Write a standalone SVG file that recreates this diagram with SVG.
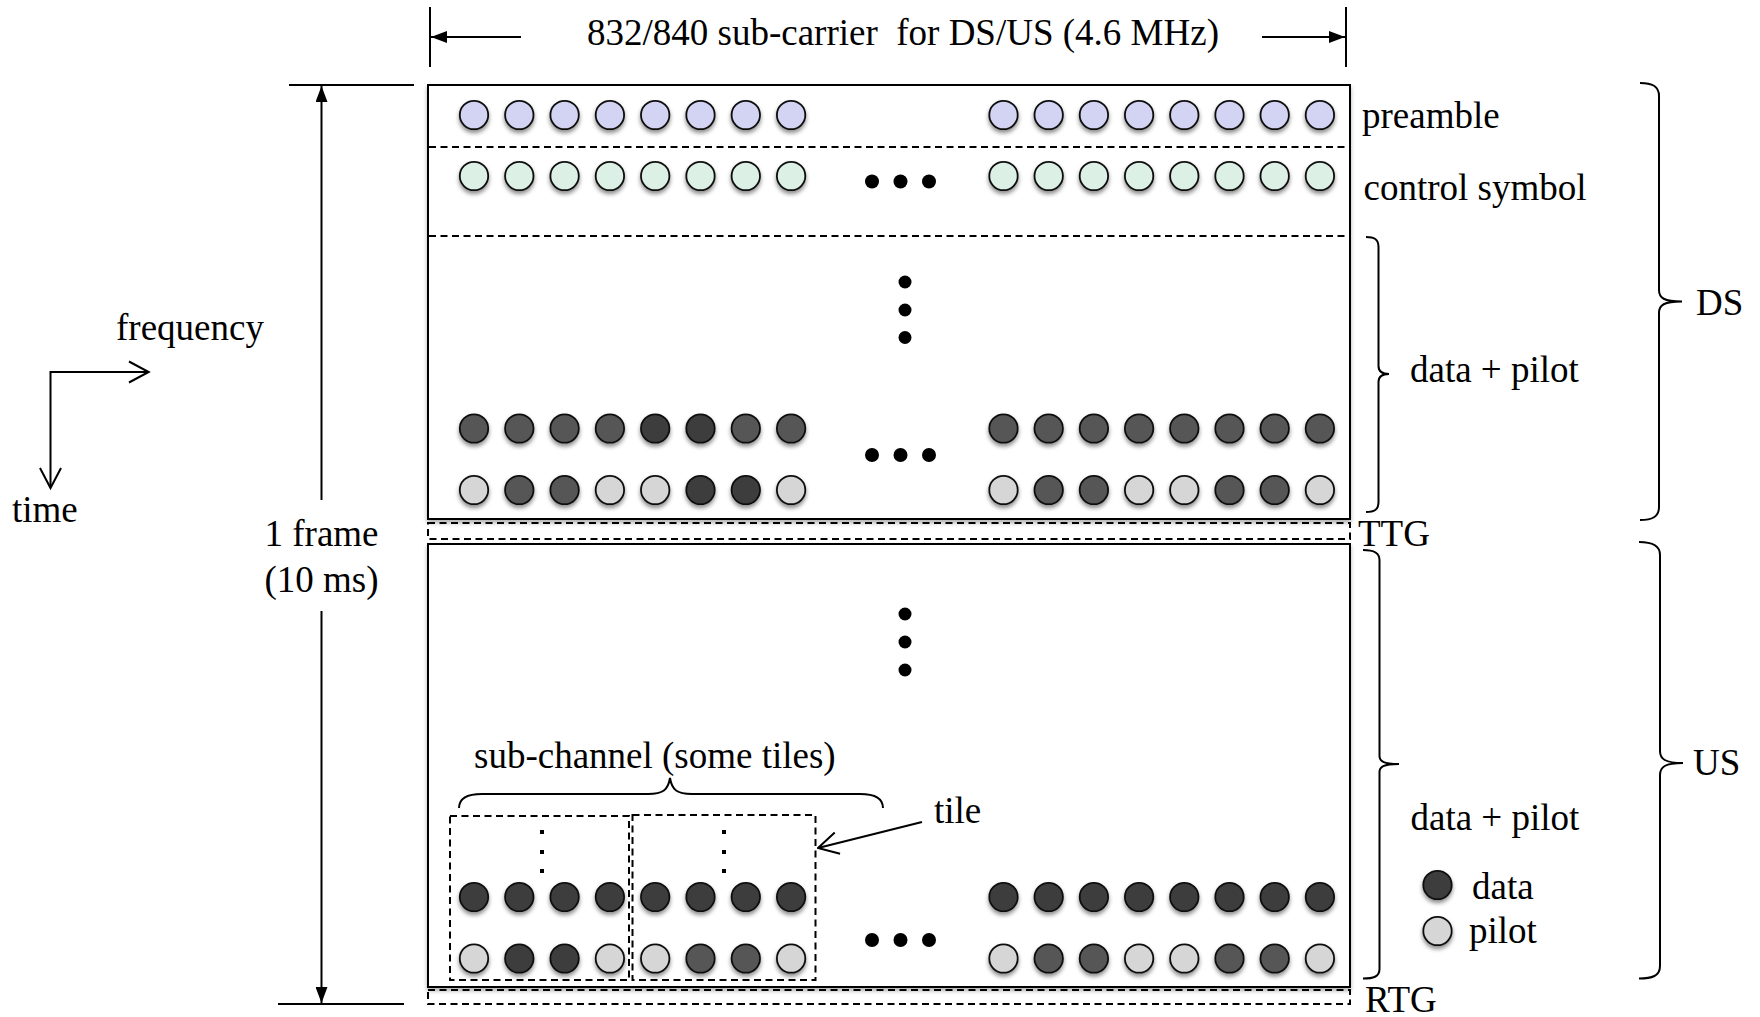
<svg xmlns="http://www.w3.org/2000/svg" width="1760" height="1017" viewBox="0 0 1760 1017">
<defs>
<filter id="sh" x="-50%" y="-50%" width="200%" height="220%">
<feDropShadow dx="0" dy="3" stdDeviation="2" flood-color="#000" flood-opacity="0.45"/>
</filter>
<filter id="shl" x="-5%" y="-5%" width="110%" height="110%">
<feDropShadow dx="0" dy="3" stdDeviation="2" flood-color="#000" flood-opacity="0.3"/>
</filter>
<marker id="fa" viewBox="0 0 16 12" refX="16" refY="6" markerWidth="16" markerHeight="12" markerUnits="userSpaceOnUse" orient="auto">
<path d="M0,0 L16,6 L0,12 Z" fill="#000"/>
</marker>
<marker id="oa" viewBox="0 0 22 24" refX="21" refY="12" markerWidth="22" markerHeight="24" markerUnits="userSpaceOnUse" orient="auto">
<path d="M1,1 L21,12 L1,23" fill="none" stroke="#000" stroke-width="2"/>
</marker>
</defs>
<style>
text{font-family:"Liberation Serif","Times New Roman",serif;font-size:37px;fill:#000;white-space:pre}
.c{stroke:#111;stroke-width:1.8;filter:url(#sh)}
.pre{fill:#d3d3f3}
.ctl{fill:#dcf0e6}
.d1{fill:#575757}
.d2{fill:#3d3d3d}
.pl{fill:#d6d6d6}
.ln{stroke:#000;stroke-width:2;fill:none}
.dash{stroke:#000;stroke-width:2;fill:none;stroke-dasharray:7 4.5}
.dot{fill:#000}
.frm{fill:#fff;stroke:#000;stroke-width:2;filter:url(#shl)}
</style>
<rect width="1760" height="1017" fill="#fff"/>

<g id="ds-frame">
<rect class="frm" x="428" y="85" width="922" height="434"/>
<line class="dash" x1="429" y1="147" x2="1349" y2="147"/>
<line class="dash" x1="429" y1="236" x2="1349" y2="236"/>
</g>

<g id="preamble">
<circle class="c pre" cx="474" cy="115" r="14.2"/><circle class="c pre" cx="519.3" cy="115" r="14.2"/><circle class="c pre" cx="564.6" cy="115" r="14.2"/><circle class="c pre" cx="609.9" cy="115" r="14.2"/><circle class="c pre" cx="655.2" cy="115" r="14.2"/><circle class="c pre" cx="700.5" cy="115" r="14.2"/><circle class="c pre" cx="745.8" cy="115" r="14.2"/><circle class="c pre" cx="791.1" cy="115" r="14.2"/>
<circle class="c pre" cx="1003.5" cy="115" r="14.2"/><circle class="c pre" cx="1048.7" cy="115" r="14.2"/><circle class="c pre" cx="1093.9" cy="115" r="14.2"/><circle class="c pre" cx="1139.1" cy="115" r="14.2"/><circle class="c pre" cx="1184.3" cy="115" r="14.2"/><circle class="c pre" cx="1229.5" cy="115" r="14.2"/><circle class="c pre" cx="1274.7" cy="115" r="14.2"/><circle class="c pre" cx="1319.9" cy="115" r="14.2"/>
</g>

<g id="control">
<circle class="c ctl" cx="474" cy="176" r="14.2"/><circle class="c ctl" cx="519.3" cy="176" r="14.2"/><circle class="c ctl" cx="564.6" cy="176" r="14.2"/><circle class="c ctl" cx="609.9" cy="176" r="14.2"/><circle class="c ctl" cx="655.2" cy="176" r="14.2"/><circle class="c ctl" cx="700.5" cy="176" r="14.2"/><circle class="c ctl" cx="745.8" cy="176" r="14.2"/><circle class="c ctl" cx="791.1" cy="176" r="14.2"/>
<circle class="c ctl" cx="1003.5" cy="176" r="14.2"/><circle class="c ctl" cx="1048.7" cy="176" r="14.2"/><circle class="c ctl" cx="1093.9" cy="176" r="14.2"/><circle class="c ctl" cx="1139.1" cy="176" r="14.2"/><circle class="c ctl" cx="1184.3" cy="176" r="14.2"/><circle class="c ctl" cx="1229.5" cy="176" r="14.2"/><circle class="c ctl" cx="1274.7" cy="176" r="14.2"/><circle class="c ctl" cx="1319.9" cy="176" r="14.2"/>
<circle class="dot" cx="872" cy="181.5" r="7"/><circle class="dot" cx="900.5" cy="181.5" r="7"/><circle class="dot" cx="929" cy="181.5" r="7"/>
</g>

<g id="ds-data">
<circle class="dot" cx="905" cy="282" r="6.5"/><circle class="dot" cx="905" cy="310" r="6.5"/><circle class="dot" cx="905" cy="337.5" r="6.5"/>
<circle class="c d1" cx="474" cy="428.5" r="14.2"/><circle class="c d1" cx="519.3" cy="428.5" r="14.2"/><circle class="c d1" cx="564.6" cy="428.5" r="14.2"/><circle class="c d1" cx="609.9" cy="428.5" r="14.2"/><circle class="c d2" cx="655.2" cy="428.5" r="14.2"/><circle class="c d2" cx="700.5" cy="428.5" r="14.2"/><circle class="c d1" cx="745.8" cy="428.5" r="14.2"/><circle class="c d1" cx="791.1" cy="428.5" r="14.2"/>
<circle class="c d1" cx="1003.5" cy="428.5" r="14.2"/><circle class="c d1" cx="1048.7" cy="428.5" r="14.2"/><circle class="c d1" cx="1093.9" cy="428.5" r="14.2"/><circle class="c d1" cx="1139.1" cy="428.5" r="14.2"/><circle class="c d1" cx="1184.3" cy="428.5" r="14.2"/><circle class="c d1" cx="1229.5" cy="428.5" r="14.2"/><circle class="c d1" cx="1274.7" cy="428.5" r="14.2"/><circle class="c d1" cx="1319.9" cy="428.5" r="14.2"/>
<circle class="dot" cx="872" cy="455" r="7"/><circle class="dot" cx="900.5" cy="455" r="7"/><circle class="dot" cx="929" cy="455" r="7"/>
<circle class="c pl" cx="474" cy="490" r="14.2"/><circle class="c d1" cx="519.3" cy="490" r="14.2"/><circle class="c d1" cx="564.6" cy="490" r="14.2"/><circle class="c pl" cx="609.9" cy="490" r="14.2"/><circle class="c pl" cx="655.2" cy="490" r="14.2"/><circle class="c d2" cx="700.5" cy="490" r="14.2"/><circle class="c d2" cx="745.8" cy="490" r="14.2"/><circle class="c pl" cx="791.1" cy="490" r="14.2"/>
<circle class="c pl" cx="1003.5" cy="490" r="14.2"/><circle class="c d1" cx="1048.7" cy="490" r="14.2"/><circle class="c d1" cx="1093.9" cy="490" r="14.2"/><circle class="c pl" cx="1139.1" cy="490" r="14.2"/><circle class="c pl" cx="1184.3" cy="490" r="14.2"/><circle class="c d1" cx="1229.5" cy="490" r="14.2"/><circle class="c d1" cx="1274.7" cy="490" r="14.2"/><circle class="c pl" cx="1319.9" cy="490" r="14.2"/>
</g>

<g id="ttg">
<rect class="dash" x="428" y="523" width="922" height="16"/>
</g>

<g id="us-frame">
<rect class="frm" x="428" y="544" width="922" height="443"/>
<circle class="dot" cx="905" cy="614" r="6.5"/><circle class="dot" cx="905" cy="642" r="6.5"/><circle class="dot" cx="905" cy="670" r="6.5"/>
</g>

<g id="us-data">
<circle class="c d2" cx="474" cy="897" r="14.2"/><circle class="c d2" cx="519.3" cy="897" r="14.2"/><circle class="c d2" cx="564.6" cy="897" r="14.2"/><circle class="c d2" cx="609.9" cy="897" r="14.2"/><circle class="c d2" cx="655.2" cy="897" r="14.2"/><circle class="c d2" cx="700.5" cy="897" r="14.2"/><circle class="c d2" cx="745.8" cy="897" r="14.2"/><circle class="c d2" cx="791.1" cy="897" r="14.2"/>
<circle class="c d2" cx="1003.5" cy="897" r="14.2"/><circle class="c d2" cx="1048.7" cy="897" r="14.2"/><circle class="c d2" cx="1093.9" cy="897" r="14.2"/><circle class="c d2" cx="1139.1" cy="897" r="14.2"/><circle class="c d2" cx="1184.3" cy="897" r="14.2"/><circle class="c d2" cx="1229.5" cy="897" r="14.2"/><circle class="c d2" cx="1274.7" cy="897" r="14.2"/><circle class="c d2" cx="1319.9" cy="897" r="14.2"/>
<circle class="dot" cx="872" cy="940" r="7"/><circle class="dot" cx="900.5" cy="940" r="7"/><circle class="dot" cx="929" cy="940" r="7"/>
<circle class="c pl" cx="474" cy="958.5" r="14.2"/><circle class="c d2" cx="519.3" cy="958.5" r="14.2"/><circle class="c d2" cx="564.6" cy="958.5" r="14.2"/><circle class="c pl" cx="609.9" cy="958.5" r="14.2"/><circle class="c pl" cx="655.2" cy="958.5" r="14.2"/><circle class="c d1" cx="700.5" cy="958.5" r="14.2"/><circle class="c d1" cx="745.8" cy="958.5" r="14.2"/><circle class="c pl" cx="791.1" cy="958.5" r="14.2"/>
<circle class="c pl" cx="1003.5" cy="958.5" r="14.2"/><circle class="c d1" cx="1048.7" cy="958.5" r="14.2"/><circle class="c d1" cx="1093.9" cy="958.5" r="14.2"/><circle class="c pl" cx="1139.1" cy="958.5" r="14.2"/><circle class="c pl" cx="1184.3" cy="958.5" r="14.2"/><circle class="c d1" cx="1229.5" cy="958.5" r="14.2"/><circle class="c d1" cx="1274.7" cy="958.5" r="14.2"/><circle class="c pl" cx="1319.9" cy="958.5" r="14.2"/>
</g>

<g id="tiles">
<rect class="dash" x="450" y="816" width="179" height="164"/>
<rect class="dash" x="632.5" y="815" width="183" height="165"/>
<rect class="dot" x="540" y="830" width="4" height="4"/><rect class="dot" x="540" y="850" width="4" height="4"/><rect class="dot" x="540" y="869" width="4" height="4"/>
<rect class="dot" x="722" y="830" width="4" height="4"/><rect class="dot" x="722" y="850" width="4" height="4"/><rect class="dot" x="722" y="869" width="4" height="4"/>
</g>

<g id="rtg">
<rect class="dash" x="428" y="990" width="922" height="14"/>
</g>

<g id="legend">
<circle class="c d2" cx="1437.5" cy="885" r="14.2"/>
<circle class="c pl" cx="1437.5" cy="931" r="14.2"/>
</g>

<g id="connectors">
<line class="ln" x1="430" y1="7" x2="430" y2="67"/>
<line class="ln" x1="1346" y1="7" x2="1346" y2="67"/>
<line class="ln" x1="521" y1="37" x2="431" y2="37" marker-end="url(#fa)"/>
<line class="ln" x1="1262" y1="37" x2="1345" y2="37" marker-end="url(#fa)"/>
<line class="ln" x1="289" y1="85" x2="414" y2="85"/>
<line class="ln" x1="278" y1="1004" x2="404" y2="1004"/>
<line class="ln" x1="321.5" y1="500" x2="321.5" y2="86" marker-end="url(#fa)"/>
<line class="ln" x1="321.5" y1="611" x2="321.5" y2="1003" marker-end="url(#fa)"/>
<polyline class="ln" points="148,372 50.5,372 50.5,487"/>
<path class="ln" d="M129,361.5 L148.7,372 L129,382.5"/>
<path class="ln" d="M40,468 L50.5,488 L61,468"/>
<line class="ln" x1="922" y1="822" x2="818" y2="848" marker-end="url(#oa)"/>
<path class="ln" d="M1640,83 C1652,83 1659,86 1659,96 L1659,290 C1659,298 1664,301.5 1682,301.5 C1664,301.5 1659,305 1659,313 L1659,507 C1659,517 1652,520 1640,520"/>
<path class="ln" d="M1639,542 C1652,542 1660,545 1660,555 L1660,751 C1660,759 1665,763 1683,763 C1665,763 1660,767 1660,775 L1660,966 C1660,976 1652,978.5 1639,978.5"/>
<path class="ln" d="M1366,237 C1374,237 1378.5,239 1378.5,247 L1378.5,366 C1378.5,371 1381,374 1389,374 C1381,374 1378.5,377 1378.5,382 L1378.5,502 C1378.5,510 1374,512 1366,512"/>
<path class="ln" d="M1363,550 C1373,550 1379.5,552 1379.5,560 L1379.5,756 C1379.5,761 1383,764 1399,764 C1383,764 1379.5,767 1379.5,772 L1379.5,969 C1379.5,977 1373,978.5 1363,978.5"/>
<path class="ln" d="M459,808 C459,799 466,794 482,794 L648,794 C663,794 668,790 670,778 C672,790 677,794 692,794 L860,794 C876,794 883,799 883,808"/>
</g>

<g id="labels">
<text x="587" y="45">832/840 sub-carrier  for DS/US (4.6 MHz)</text>
<text x="116" y="340">frequency</text>
<text x="12" y="522">time</text>
<text x="321.5" y="546" text-anchor="middle">1 frame</text>
<text x="321.5" y="592" text-anchor="middle">(10 ms)</text>
<text x="1362" y="128">preamble</text>
<text x="1363.5" y="200">control symbol</text>
<text x="1410" y="382">data + pilot</text>
<text x="1696" y="315">DS</text>
<text x="1358" y="546">TTG</text>
<text x="1693" y="775">US</text>
<text x="1410.5" y="830">data + pilot</text>
<text x="1472" y="899">data</text>
<text x="1469" y="943">pilot</text>
<text x="1365" y="1012">RTG</text>
<text x="474" y="768">sub-channel (some tiles)</text>
<text x="934" y="823">tile</text>
</g>
</svg>
